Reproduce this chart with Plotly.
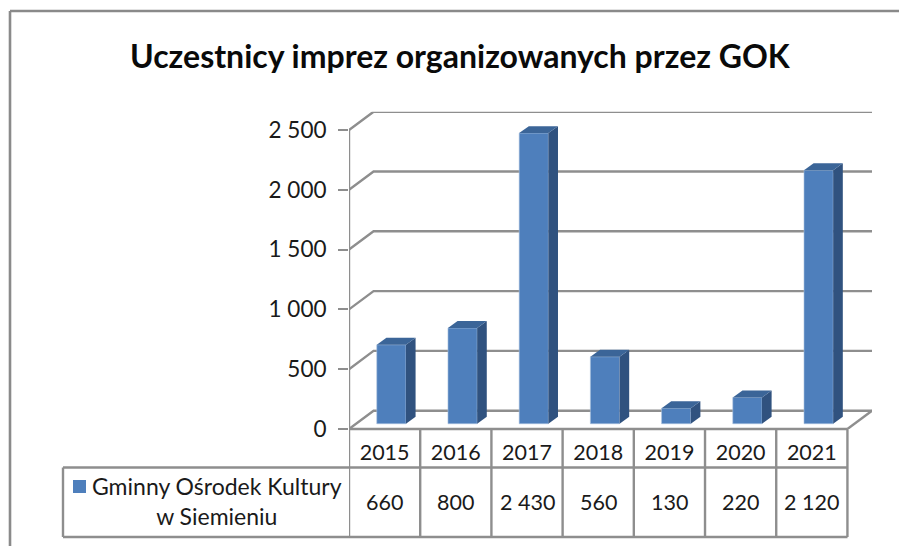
import plotly.graph_objects as go

years = ["2015", "2016", "2017", "2018", "2019", "2020", "2021"]
values = [660, 800, 2430, 560, 130, 220, 2120]
value_labels = ["660", "800", "2 430", "560", "130", "220", "2 120"]
y_ticks = [0, 500, 1000, 1500, 2000, 2500]
y_labels = ["0", "500", "1 000", "1 500", "2 000", "2 500"]
title = "Uczestnicy imprez organizowanych przez GOK"
series = "Gminny Ośrodek Kultury<br>w Siemieniu"

W, H = 899, 546
FONT = "Lato"
GREY = "#8e8e8e"
INK = "#1a1a1a"
BLUE, SIDE, TOP = "#4e7fbc", "#30527f", "#3b6598"

# Projection of the pseudo-3D box, in axis units
X0, X1 = -0.5, 6.5                  # front floor edge
BACK_X, BACK_Y = 0.345, 153         # wall offset
YMAX = 2500 + BACK_Y
BAR_DX, BAR_BASE = 0.095, 44        # bars stand in the middle of the floor
BAR_W = 0.41
DEPTH_X, DEPTH_Y = 0.135, 58        # depth of each bar


def px(x):
    return x / W


def py(y):
    return 1 - y / H


fig = go.Figure()
idx = list(range(len(years)))

fig.add_trace(go.Bar(x=[i + BAR_DX for i in idx], y=values, base=BAR_BASE, width=BAR_W,
                     marker=dict(color=BLUE, line=dict(width=0.6, color="#a9c1de")),
                     name="Gminny Ośrodek Kultury w Siemieniu", showlegend=False))

for i, v in zip(idx, values):
    l = i + BAR_DX - BAR_W / 2
    r = i + BAR_DX + BAR_W / 2
    top = BAR_BASE + v
    fig.add_trace(go.Scatter(
        x=[r, r + DEPTH_X, r + DEPTH_X, r, r], y=[BAR_BASE, BAR_BASE + DEPTH_Y, top + DEPTH_Y, top, BAR_BASE],
        mode="lines", fill="toself", fillcolor=SIDE, line=dict(width=0), showlegend=False, hoverinfo="skip"))
    fig.add_trace(go.Scatter(
        x=[l, r, r + DEPTH_X, l + DEPTH_X, l], y=[top, top, top + DEPTH_Y, top + DEPTH_Y, top],
        mode="lines", fill="toself", fillcolor=TOP, line=dict(width=0), showlegend=False, hoverinfo="skip"))

shapes = []
line = dict(color=GREY, width=2.4)
# back wall grid
for t in y_ticks:
    shapes.append(dict(type="path", xref="x", yref="y", layer="below", line=dict(color=GREY, width=2.4),
                       path=f"M{X0},{t} L{X0 + BACK_X},{t + BACK_Y} L{X1 + BACK_X},{t + BACK_Y}"))
# floor right edge and left axis
shapes.append(dict(type="line", xref="x", yref="y", layer="below", line=line,
                   x0=X1, y0=0, x1=X1 + BACK_X, y1=BACK_Y))
shapes.append(dict(type="line", xref="x", yref="y", layer="below", line=line,
                   x0=X0, y0=0, x1=X0, y1=y_ticks[-1]))
# table
T_TOP, T_MID, T_BOT, T_LEFT = 429, 467.5, 537, 63
for i in range(len(years) + 1):
    xv = X0 + i
    shapes.append(dict(type="line", xref="x", yref="paper", line=line, x0=xv, x1=xv,
                       y0=py(T_TOP), y1=py(T_BOT)))
shapes.append(dict(type="line", xref="x", yref="paper", line=line, x0=X0, x1=X1, y0=py(T_TOP), y1=py(T_TOP)))
for yy in (T_MID, T_BOT):
    shapes.append(dict(type="line", xref="paper", yref="paper", line=line, x0=px(T_LEFT), x1=px(847.5),
                       y0=py(yy), y1=py(yy)))
shapes.append(dict(type="line", xref="paper", yref="paper", line=line, x0=px(T_LEFT), x1=px(T_LEFT),
                   y0=py(T_MID), y1=py(T_BOT)))
# legend key
shapes.append(dict(type="rect", xref="paper", yref="paper", line=dict(width=0), fillcolor=BLUE,
                   x0=px(73), x1=px(86), y0=py(480), y1=py(493)))
# chart frame
frame = dict(color="#8a8a8a", width=2.6)
shapes.append(dict(type="line", xref="paper", yref="paper", line=frame, x0=px(10), x1=1, y0=py(11), y1=py(11)))
shapes.append(dict(type="line", xref="paper", yref="paper", line=frame, x0=px(10), x1=px(10), y0=py(11), y1=0))

annotations = [
    dict(text=f"<b>{title}</b>", xref="paper", yref="paper", x=px(461), y=py(56), showarrow=False,
         xanchor="center", yanchor="middle", font=dict(family=FONT, size=32, color="#0a0a0a")),
    dict(text=series, xref="paper", yref="paper", x=px(217), y=py(501), showarrow=False, align="center",
         xanchor="center", yanchor="middle", font=dict(family=FONT, size=23, color=INK)),
]
for i, label in zip(idx, value_labels):
    annotations.append(dict(text=label, xref="x", yref="paper", x=i, y=py(502), showarrow=False,
                            xanchor="center", yanchor="middle", font=dict(family=FONT, size=21.5, color=INK)))

fig.update_layout(
    width=W, height=H, autosize=False, margin=dict(l=0, r=0, t=0, b=0),
    paper_bgcolor="white", plot_bgcolor="rgba(0,0,0,0)", showlegend=False,
    shapes=shapes, annotations=annotations,
    xaxis=dict(domain=[px(349), px(872)], range=[X0, X1 + BACK_X], showgrid=False, zeroline=False, automargin=False,
               showline=False, tickmode="array", tickvals=idx, ticktext=years, ticks="", ticklabelstandoff=8,
               tickfont=dict(family=FONT, size=21.5, color=INK)),
    yaxis=dict(domain=[py(429), py(111.7)], range=[0, YMAX], showgrid=False, zeroline=False, showline=False,
               automargin=False,
               tickmode="array", tickvals=y_ticks, ticktext=y_labels, ticks="outside", ticklen=10, tickwidth=2.4,
               tickcolor=GREY, ticklabelstandoff=7, tickfont=dict(family=FONT, size=22.5, color=INK)),
)

fig.write_html("out.html", config={"displayModeBar": False},
               post_script="document.body.style.margin='0';document.documentElement.style.overflow='hidden';")
